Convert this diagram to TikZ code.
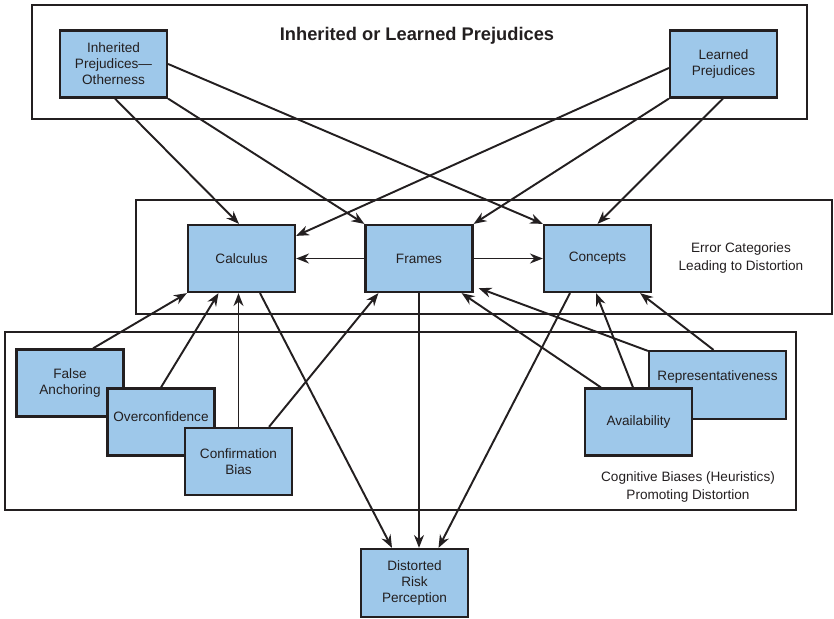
\documentclass[tikz,border=0pt]{standalone}
\usepackage{fontspec}
\setmainfont{Liberation Sans}
\usetikzlibrary{arrows.meta,calc}
\definecolor{boxblue}{RGB}{158,200,234}
\definecolor{ink}{RGB}{35,31,32}
\begin{document}
\begin{tikzpicture}[x=0.03cm,y=-0.03cm,
  every node/.style={text=ink},
  biasbox/.style={draw=ink,line width=1.9pt,fill=boxblue,minimum width=3.21cm,minimum height=2.01cm,inner sep=2pt,align=center,font=\fontsize{11.6}{13.6}\selectfont},
  frame/.style={draw=ink,line width=1.3pt},
  conn/.style={draw=ink,line width=1.65pt,-{Stealth[length=11pt,width=8.5pt]}},
  caption/.style={align=center,font=\fontsize{11.6}{15}\selectfont}]
\useasboundingbox (0,0) rectangle (834,619);
% outer frames
\draw[frame] (32,5) rectangle (807,119);
\draw[frame] (136,200) rectangle (832,314);
\draw[frame] (5,332) rectangle (796,510);
% labels
\node[font=\fontsize{15.6}{18}\selectfont\bfseries] (title) at (417,36) {Inherited or Learned Prejudices};
\node[caption] (errlab) at (741,258) {Error Categories\\Leading to Distortion};
\node[caption] (coglab) at (688,487) {Cognitive Biases (Heuristics)\\Promoting Distortion};
% nodes
\node[biasbox] (inh) at (113.5,64) {Inherited\\Prejudices—\\Otherness};
\node[biasbox] (lea) at (723.5,64) {Learned\\Prejudices};
\node[biasbox] (calc) at (241.5,258.5) {Calculus};
\node[biasbox] (fra) at (419,258.5) {Frames};
\node[biasbox] (con) at (597.5,258.5) {Concepts};
\node[biasbox] (fa) at (70,383) {False\\Anchoring};
\node[biasbox] (oc) at (161,422) {\raisebox{4.5pt}[\height][\depth]{Overconfidence}};
\node[biasbox] (cb) at (238.5,461.5) {Confirmation\\Bias};
\node[biasbox,minimum width=4.11cm,minimum height=2.04cm] (rep) at (717.5,385) {\raisebox{7pt}[\height][\depth]{Representativeness}};
\node[biasbox] (av) at (638.5,422) {Availability};
\node[biasbox,minimum height=2.04cm] (dis) at (414.5,583) {Distorted\\Risk\\Perception};
% connectors from prejudices
\draw[conn] ($(inh.south)+(1.5,0)$) -- ($(calc.north)+(-2.5,0)$);
\draw[conn] (inh.south east) -- (fra.north west);
\draw[conn] (inh.east) -- (con.north west);
\draw[conn] ($(lea.west)+(0,4)$) -- ($(calc.north east)+(0,12)$);
\draw[conn] (lea.south west) -- (fra.north east);
\draw[conn] ($(lea.south)+(-0.5,0)$) -- (con.north);
% frames to others
\draw[conn] (fra.west) -- (calc.east);
\draw[conn] (fra.east) -- (con.west);
% biases to categories
\draw[conn] ($(fa.north)+(23,0)$) -- (calc.south west);
\draw[conn] (oc.north) -- ($(calc.south)+(-23,0)$);
\draw[conn] (cb.north) -- (cb.north |- calc.south);
\draw[conn] ($(cb.north)+(30.5,0)$) -- ($(fra.south west)+(14,0)$);
\draw[conn] ($(av.north west)+(17,0)$) -- ($(fra.south east)+(-12,0)$);
\draw[conn] ($(rep.north west)+(0,1)$) -- ($(fra.south east)+(5,-5)$);
\draw[conn] ($(av.north)+(-5.5,0)$) -- ($(con.south)+(-1.5,0)$);
\draw[conn] ($(rep.north)+(-4,0)$) -- ($(con.south east)+(-12,0)$);
% categories to distorted risk perception
\draw[conn] ($(calc.south)+(18.5,0)$) -- ($(dis.north)+(-22.5,0)$);
\draw[conn] (fra.south) -- (fra.south |- dis.north);
\draw[conn] ($(con.south)+(-27.5,0)$) -- ($(dis.north)+(24,0)$);
\end{tikzpicture}
\end{document}
